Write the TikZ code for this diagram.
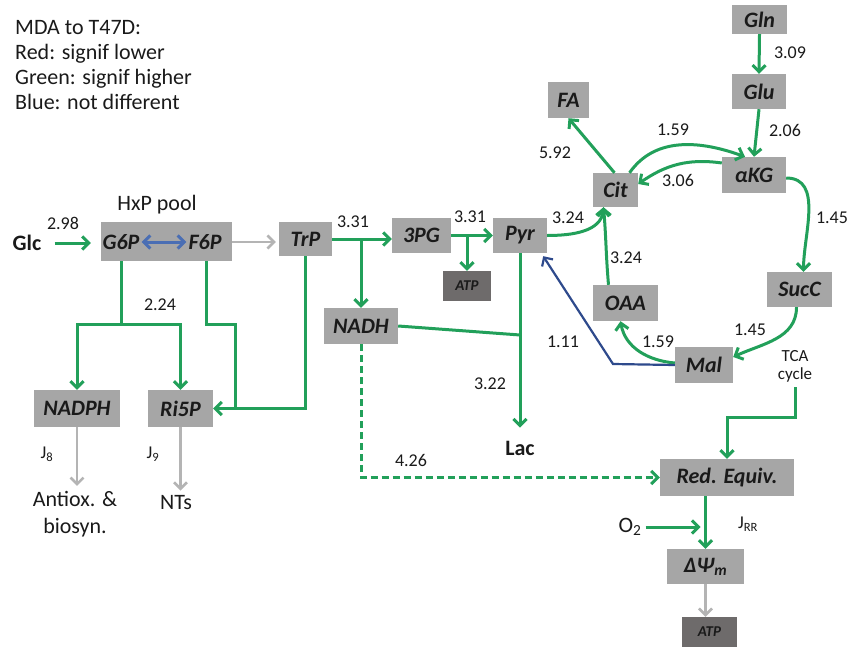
\documentclass[tikz,border=0pt]{standalone}
\usepackage{fontspec}
\setmainfont{Carlito}
\usetikzlibrary{arrows.meta,calc}
\definecolor{gr}{HTML}{22A05A}
\definecolor{bl}{HTML}{4A6EB4}
\definecolor{dbl}{HTML}{2E4A8C}
\definecolor{ga}{HTML}{B4B4B4}
\definecolor{boxgray}{HTML}{A6A6A6}
\definecolor{atpgray}{HTML}{6E6B6B}
\definecolor{ink}{HTML}{1A1A1A}
\tikzset{
  box/.style={fill=boxgray, draw=none, inner sep=0pt, text=ink, font=\fontsize{22}{24}\selectfont\bfseries\itshape},
  darkbox/.style={box, fill=atpgray, font=\fontsize{15}{18}\selectfont\bfseries\itshape},
  boxtext/.style={inner sep=0pt, text=ink, font=\fontsize{22}{24}\selectfont\bfseries\itshape},
  num/.style={inner sep=0pt, text=ink, font=\fontsize{18}{20}\selectfont},
  jlbl/.style={inner sep=0pt, text=ink, font=\fontsize{18}{20}\selectfont},
  lbl/.style={inner sep=0pt, text=ink, align=center, font=\fontsize{22}{27}\selectfont},
  blbl/.style={inner sep=0pt, text=ink, font=\fontsize{22}{24}\selectfont\bfseries},
  ttl/.style={inner sep=0pt, text=ink, anchor=base west, font=\fontsize{22}{25}\selectfont},
  gline/.style={draw=gr, line width=3pt},
  garrow/.style={gline, -{Straight Barb[length=6.5pt,width=13pt]}},
  grarrow/.style={draw=ga, line width=2.6pt, -{Straight Barb[length=6.5pt,width=13pt]}},
  bdarrow/.style={draw=bl, line width=3pt, {Straight Barb[length=6.5pt,width=13pt]}-{Straight Barb[length=6.5pt,width=13pt]}},
  dbarrow/.style={draw=dbl, line width=2.2pt, -{Straight Barb[length=6.5pt,width=13pt]}},
}
\begin{document}
\begin{tikzpicture}[x=1pt,y=1pt]
\useasboundingbox (0,0) rectangle (850,-647);

% legend
\node[ttl] (t1) at (15,-35) {MDA to T47D:};
\node[ttl] (t2) at (15,-60) {Red: signif lower};
\node[ttl] (t3) at (15,-85) {Green: signif higher};
\node[ttl] (t4) at (15,-110) {Blue: not different};

% boxes
\node[box, minimum width=131pt, minimum height=39pt] (hxp) at (166.5,-241.5) {};
\node[boxtext] (g6p) at (121,-242) {G6P};
\node[boxtext] (f6p) at (205,-242) {F6P};
\node[lbl] (hxplbl) at (157,-205) {HxP pool};
\node[box, minimum width=53pt, minimum height=34pt] (trp) at (305.5,-239) {TrP};
\node[box, minimum width=59pt, minimum height=35pt] (pg3) at (421.5,-235.5) {3PG};
\node[box, minimum width=54pt, minimum height=35pt] (pyr) at (520,-235.5) {Pyr};
\node[darkbox, minimum width=48pt, minimum height=30pt] (atpa) at (467,-286) {ATP};
\node[box, minimum width=74pt, minimum height=36pt] (nadh) at (361,-326) {NADH};
\node[box, minimum width=86pt, minimum height=37pt] (nadph) at (77,-408.5) {NADPH};
\node[box, minimum width=65pt, minimum height=37pt] (ri5p) at (180.5,-408.5) {Ri5P};
\node[box, minimum width=41pt, minimum height=36pt] (fa) at (568.5,-100) {FA};
\node[box, minimum width=45pt, minimum height=34pt] (cit) at (615.5,-190) {Cit};
\node[box, minimum width=64pt, minimum height=36pt] (akg) at (754,-175) {αKG};
\node[box, minimum width=55pt, minimum height=29pt] (gln) at (759.5,-19.5) {Gln};
\node[box, minimum width=54pt, minimum height=35pt] (glu) at (759,-91.5) {Glu};
\node[box, minimum width=65pt, minimum height=35pt] (succ) at (799.5,-289.5) {SucC};
\node[box, minimum width=65pt, minimum height=36pt] (oaa) at (625.5,-303) {OAA};
\node[box, minimum width=58pt, minimum height=36pt] (mal) at (704,-365) {Mal};
\node[box, minimum width=134pt, minimum height=37pt] (redeq) at (727,-477.5) {Red. Equiv.};
\node[box, minimum width=77pt, minimum height=35pt] (dpsi) at (705.5,-566.5) {ΔΨ\textsubscript{m}};
\node[darkbox, minimum width=55pt, minimum height=30pt] (atpb) at (709.5,-632) {ATP};

% free text
\node[blbl] (glc) at (27,-243) {Glc};
\node[blbl] (lac) at (520,-448) {Lac};
\node[lbl] (antiox) at (75,-514) {Antiox. \&\\biosyn.};
\node[lbl] (nts) at (176,-503) {NTs};
\node[lbl] (o2) at (630,-527) {O\textsubscript{2}};
\node[lbl, font=\fontsize{17}{18}\selectfont] (tca) at (795,-366) {TCA\\cycle};

% numbers
\node[num] (n298) at (63,-223) {2.98};
\node[num] (n224) at (160,-305) {2.24};
\node[num] (n331a) at (353,-222) {3.31};
\node[num] (n331b) at (470,-217) {3.31};
\node[num] (n324a) at (568,-218) {3.24};
\node[num] (n592) at (555,-153) {5.92};
\node[num] (n159a) at (673,-130) {1.59};
\node[num] (n306) at (678,-180) {3.06};
\node[num] (n206) at (785,-130) {2.06};
\node[num] (n309) at (790,-53) {3.09};
\node[num] (n145a) at (832,-218) {1.45};
\node[num] (n145b) at (750,-330) {1.45};
\node[num] (n159b) at (658,-342) {1.59};
\node[num] (n324b) at (626,-258) {3.24};
\node[num] (n111) at (563,-342) {1.11};
\node[num] (n322) at (490,-384) {3.22};
\node[num] (n426) at (411,-460) {4.26};
\node[jlbl] (j8) at (47,-454) {J\textsubscript{8}};
\node[jlbl] (j9) at (153,-454) {J\textsubscript{9}};
\node[jlbl] (jrr) at (748,-524) {J\textsubscript{RR}};

% coordinates
\coordinate (j1) at (520,-335);
\coordinate (mb) at (613,-364);
\coordinate (f6pd) at (206,-324);
\coordinate (f6pr) at (235,-324);

% glycolysis
\draw[garrow, shorten <=13pt, shorten >=10pt] (glc.east) -- (glc.east -| hxp.west);
\draw[bdarrow, shorten <=2pt, shorten >=2pt] (g6p.east) -- (f6p.west);
\draw[grarrow, shorten >=3pt] (f6p -| hxp.east) -- (f6p -| trp.west);
\draw[garrow] (trp.east) -- (trp.east -| pg3.west);
\draw[garrow] (trp.east -| nadh.north) -- (nadh.north);
\draw[garrow] (pg3.east) -- (pyr.west);
\draw[garrow] (pg3.east -| atpa.north) -- (atpa.north);
\draw[garrow, shorten >=13pt] (pyr.south) -- (lac.north);
\draw[gline] (nadh.east) -- (j1);
\draw[garrow, dash pattern=on 7pt off 4pt] (nadh.south) |- (redeq.west);

% pentose phosphate
\draw[gline] (g6p |- hxp.south) -- ++(0,-63) coordinate (j2);
\draw[garrow] (j2) -| (nadph.north);
\draw[garrow] (j2) -| (ri5p.north);
\draw[gline] (hxp.south -| f6pd) -- (f6pd) -- (f6pr) -- (f6pr |- ri5p.east);
\draw[garrow] (trp.south) |- (ri5p.east);
\draw[grarrow, shorten >=5pt] (nadph.south) -- (nadph.south |- antiox.north);
\draw[grarrow, shorten >=5pt] (ri5p.south) -- (ri5p.south |- nts.north);

% TCA
\draw[garrow] (pyr.east) to[out=0, in=-95] ([xshift=-12pt]cit.south);
\draw[garrow] ([xshift=-17pt]oaa.north) to[out=95, in=-85] ([xshift=-12pt]cit.south);
\draw[garrow] ([xshift=-1pt]cit.north) -- (fa.south);
\draw[garrow] ([xshift=14pt]cit.north) to[out=55, in=160] ([xshift=-9pt]akg.north);
\draw[garrow] ([yshift=12pt]akg.west) to[out=172, in=35] ([yshift=6pt]cit.east);
\draw[garrow] (gln.south) -- (glu.north);
\draw[garrow] (glu.south) -- (akg.north);
\draw[garrow] ([yshift=-3pt]akg.east) to[out=0, in=90] ([xshift=4pt]succ.north);
\draw[garrow] ([xshift=-3pt]succ.south) to[out=-90, in=25] ([yshift=8pt]mal.east);
\draw[garrow] ([yshift=2pt]mal.west) to[out=175, in=-80] ([xshift=-5pt]oaa.south);
\draw[dbarrow] (mal.west) -- (mb) -- ([xshift=-4pt,yshift=-3pt]pyr.south east);

% respiration
\draw[garrow] ([yshift=-5pt]tca.south) -- ++(0,-30) -| (redeq.north);
\draw[garrow] (redeq.south -| dpsi.north) -- (dpsi.north);
\draw[garrow, shorten <=4pt, shorten >=5pt] (o2.east) -- (o2.east -| dpsi.north);
\draw[grarrow] (dpsi.south) -- (dpsi.south |- atpb.north);
\end{tikzpicture}
\end{document}
